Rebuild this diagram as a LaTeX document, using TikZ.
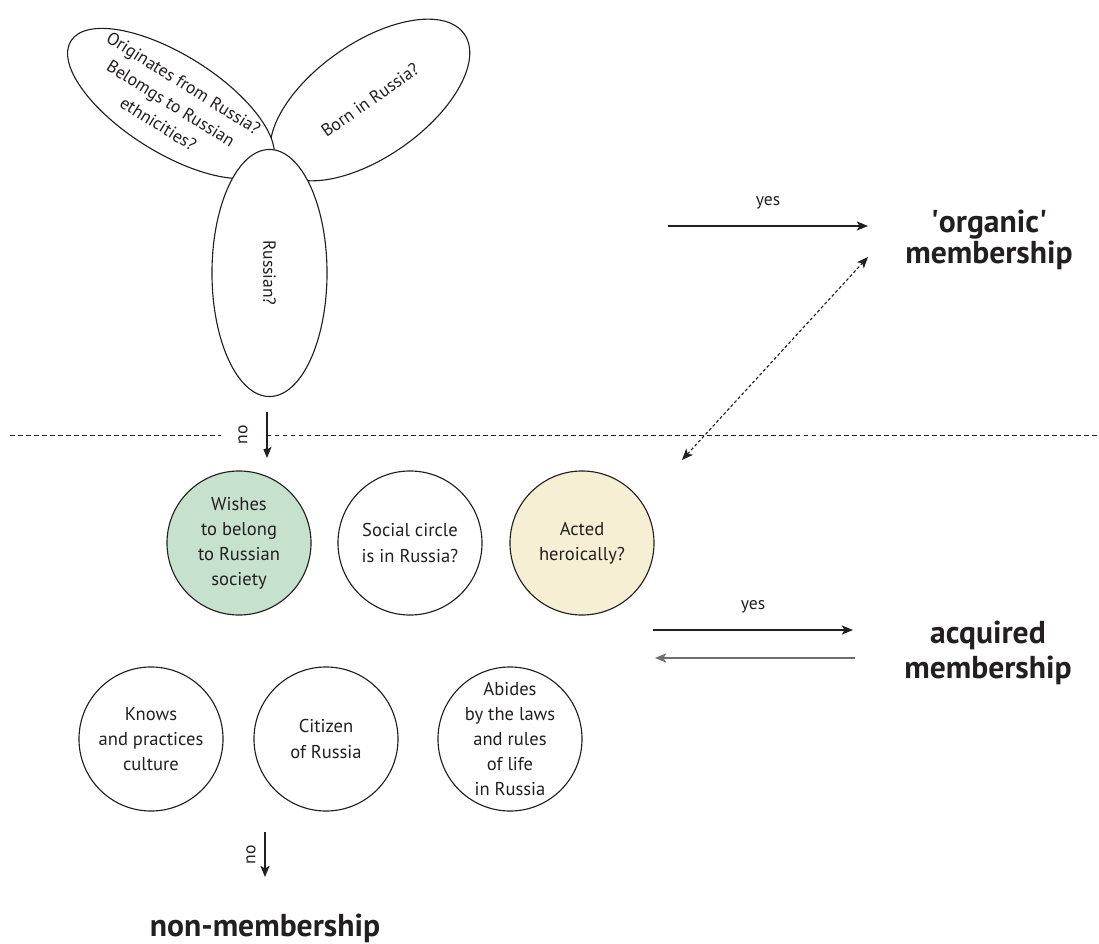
\documentclass[tikz,border=0pt]{standalone}
\usepackage{fontspec}
\setmainfont{PT Sans}
\usetikzlibrary{shapes.geometric, arrows.meta}
\definecolor{memInk}{HTML}{231F20}
\definecolor{memGreen}{HTML}{C6E2CD}
\definecolor{memSand}{HTML}{F7EFD4}
\definecolor{memGray}{HTML}{6D6E71}

\begin{document}
\begin{tikzpicture}[x=0.025cm, y=-0.025cm, memInk,
    >={Stealth[length=8pt, width=6.5pt, inset=2pt]},
    bubble/.style={ellipse, draw, line width=0.8pt, fill=white, inner sep=-12pt, align=center,
        font=\fontsize{12.5}{17}\selectfont},
    ring/.style={circle, draw, line width=0.8pt, minimum size=3.6cm, inner sep=-5pt, align=center,
        font=\fontsize{13.2}{17.8}\selectfont},
    verdict/.style={align=center, font=\bfseries\fontsize{22.5}{21.5}\selectfont},
    tag/.style={font=\fontsize{12.5}{14}\selectfont}]

    \useasboundingbox (0,0) rectangle (1099,944);

    \node[bubble, rotate=35, minimum width=5.75cm, minimum height=2.85cm] (born) at (370,100) {Born in Russia?};
    \node[bubble, rotate=-32, minimum width=5.9cm, minimum height=2.45cm] (origin) at (171,103.5)
        {Originates from Russia?\\Belomgs to Russian\\ethnicities?};
    \node[bubble, rotate=-90, minimum width=6.175cm, minimum height=2.875cm] (russian) at (269.5,273) {Russian?};

    \draw[dash pattern=on 3.5pt off 2.2pt, line width=0.6pt] (10,435) -- (1099,435);

    \node[ring, fill=memGreen] (wishes) at (239,543) {Wishes\\to belong\\to Russian\\society};
    \node[ring] (social) at (410,543) {Social circle\\is in Russia?};
    \node[ring, fill=memSand] (heroic) at (582,543) {Acted\\heroically?};
    \node[ring] (culture) at (151,739) {Knows\\and practices\\culture};
    \node[ring] (citizen) at (326,739) {Citizen\\of Russia};
    \node[ring] (laws) at (510,739) {Abides\\by the laws\\and rules\\of life\\in Russia};

    \node[verdict] (organic) at (989,240) {\textquotesingle organic\textquotesingle\\membership};
    \node[verdict, font=\bfseries\fontsize{22.5}{25}\selectfont] (acquired) at (988,653) {acquired\\membership};
    \node[verdict] (nonmember) at (265,928) {non-membership};

    \coordinate (noTopA) at (267,412);
    \coordinate (noTopB) at (267,458);
    \coordinate (noBotA) at (265,832);
    \coordinate (noBotB) at (265,877);
    \coordinate (orgFrom) at (668,226);
    \coordinate (orgTo) at (868,226);
    \coordinate (acqFrom) at (653,630);
    \coordinate (acqTo) at (853,630);
    \coordinate (backFrom) at (855,658);
    \coordinate (backTo) at (655,658);
    \coordinate (linkLow) at (682,460);
    \coordinate (linkHigh) at (868,257);

    \draw[<-, line width=0.8pt] (noTopB) -- node[tag, sloped, above=1pt, fill=white, minimum height=1.1cm] {no} (noTopA);
    \draw[<-, line width=0.8pt] (noBotB) -- node[tag, sloped, above=3pt] {no} (noBotA);
    \draw[->, line width=0.8pt] (orgFrom) -- node[tag, above=8pt] {yes} (orgTo);
    \draw[->, line width=0.8pt] (acqFrom) -- node[tag, above=8pt] {yes} (acqTo);
    \draw[->, line width=1.2pt, memGray] (backFrom) -- (backTo);
    \draw[<->, line width=0.8pt, dash pattern=on 2.2pt off 1.6pt] (linkLow) -- (linkHigh);
\end{tikzpicture}
\end{document}
